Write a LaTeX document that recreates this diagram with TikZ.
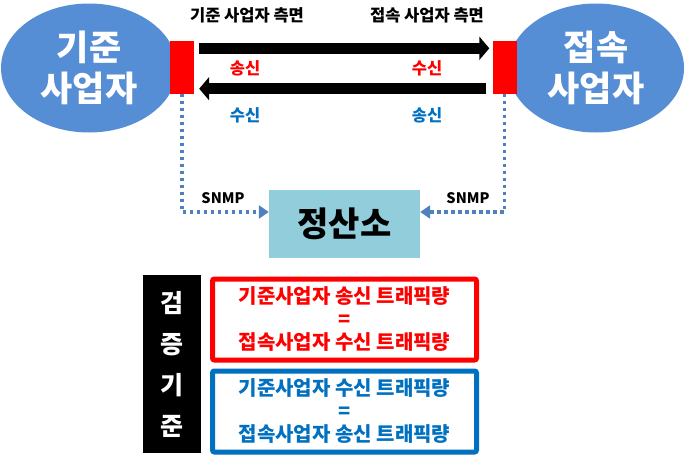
\documentclass[tikz,border=0pt]{standalone}
\usepackage{fontspec}
\setmainfont{Noto Sans CJK KR}
\usetikzlibrary{shapes.geometric, arrows.meta, positioning, calc}
\definecolor{firmblue}{RGB}{85, 142, 213}
\definecolor{textblue}{RGB}{0, 112, 192}
\definecolor{dotblue}{RGB}{79, 129, 189}
\definecolor{centerblue}{RGB}{146, 205, 220}

\begin{document}
\begin{tikzpicture}[
    x=1pt, y=-1pt,
    firm/.style={ellipse, minimum width=176pt, minimum height=129pt, inner sep=0pt, fill=firmblue, text=white, align=center, font=\fontsize{35}{41}\selectfont\bfseries},
    port/.style={rectangle, minimum width=24pt, minimum height=53pt, inner sep=0pt, fill=red},
    sidelabel/.style={font=\fontsize{16.5}{18}\selectfont\bfseries},
    snmplabel/.style={font=\fontsize{14.5}{16}\selectfont\bfseries},
    dirlabel/.style={font=\fontsize{16.5}{18}\selectfont\bfseries},
    bigarrow/.style={line width=11pt, -{Triangle[length=10pt, width=23pt]}},
    snmp/.style={line width=3.5pt, draw=dotblue, dash pattern=on 3.5pt off 3.5pt, -{Triangle[length=10pt, width=13pt]}},
    settle/.style={rectangle, minimum width=151pt, minimum height=68pt, fill=centerblue, font=\fontsize{34}{36}\selectfont\bfseries},
    checkbox/.style={rectangle, rounded corners=2pt, line width=5pt, minimum width=264pt, minimum height=81pt, inner sep=0pt, align=center, font=\fontsize{20}{23}\selectfont\bfseries},
    critbox/.style={rectangle, minimum width=58pt, minimum height=178pt, fill=black, text=white, align=center, font=\fontsize{25}{41}\selectfont\bfseries}
]

\fill[white] (0,0) rectangle (685,458);
\useasboundingbox (0,0) rectangle (685,458);

\node (basefirm) [firm] at (89,68) {기준\\사업자};
\node (connfirm) [firm] at (596,68) {접속\\사업자};
\node (lport) [port] at (182,67) {};
\node (rport) [port] at (504.5,67) {};

\node (baseside) [sidelabel] at (247,15) {기준 사업자 측면};
\node (connside) [sidelabel] at (427,15) {접속 사업자 측면};

\draw [bigarrow] ([xshift=5pt, yshift=-8pt]lport.north east) -- ([xshift=-3pt, yshift=-8pt]rport.north west);
\draw [bigarrow] ([xshift=-6pt, yshift=5pt]rport.south west) -- ([xshift=5pt, yshift=5pt]lport.south east);

\node (basesend) [dirlabel, text=red] at (245,68) {송신};
\node (connrecv) [dirlabel, text=red] at (427,68) {수신};
\node (baserecv) [dirlabel, text=textblue] at (245,115) {수신};
\node (connsend) [dirlabel, text=textblue] at (427,115) {송신};

\node (jsan) [settle] at (344.5,224) {정산소};

\draw [snmp] (lport.south) |- ([yshift=12pt]jsan.west);
\draw [snmp] (rport.south) |- ([yshift=12pt]jsan.east);
\node (lsnmp) [snmplabel] at (223,198) {SNMP};
\node (rsnmp) [snmplabel] at (468,198) {SNMP};

\node (criteria) [critbox] at (172,364) {검\\증\\기\\준};
\node (sendbox) [checkbox, draw=red, text=red] at (344.5,319.5) {기준사업자 송신 트래픽량\\=\\접속사업자 수신 트래픽량};
\node (recvbox) [checkbox, draw=textblue, text=textblue] at (344.5,411.5) {기준사업자 수신 트래픽량\\=\\접속사업자 송신 트래픽량};

\end{tikzpicture}
\end{document}
